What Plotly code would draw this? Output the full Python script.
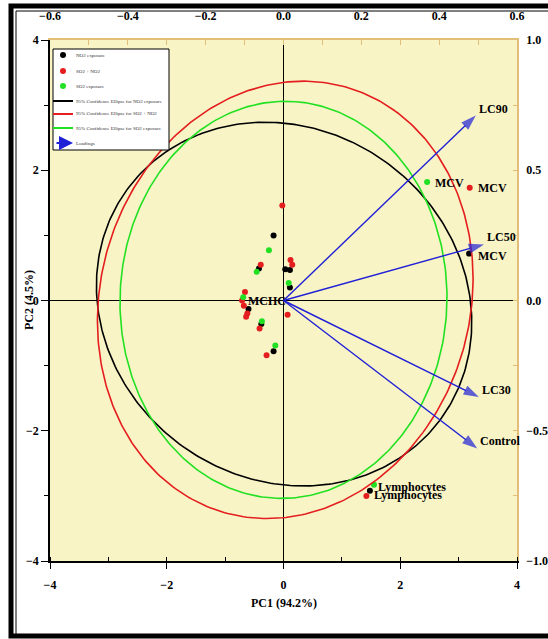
import numpy as np
import plotly.graph_objects as go

# ---------------- data ----------------
# PCA scores (PC1, PC2) per group
no2_x = [-0.17, -0.42, 0.03, 0.11, 0.11, -0.60, -0.38, -0.17, 3.18, 1.48]
no2_y = [1.00, 0.49, 0.48, 0.47, 0.20, -0.13, -0.36, -0.78, 0.72, -2.92]
mix_x = [-0.02, -0.39, 0.12, 0.15, -0.66, -0.71, -0.68, -0.62, -0.64, 0.07, -0.41, -0.29, 3.19, 1.42]
mix_y = [1.46, 0.55, 0.62, 0.55, 0.13, 0.00, -0.08, -0.20, -0.25, -0.22, -0.43, -0.84, 1.73, -3.00]
so2_x = [-0.25, -0.46, 0.09, -0.69, -0.37, -0.14, 2.46, 1.55]
so2_y = [0.77, 0.44, 0.27, 0.05, -0.32, -0.69, 1.82, -2.83]

group_names = ["NO2 exposure", "SO2 + NO2", "SO2 exposure"]

# 95% confidence ellipses: centre, semi-axes, rotation (deg)
ell_names = ["95% Confidence Ellipse for NO2 exposure",
             "95% Confidence Ellipse for SO2 + NO2",
             "95% Confidence Ellipse for SO2 exposure"]
ell_cx = [0.01, 0.03, 0.00]
ell_cy = [-0.055, 0.01, 0.01]
ell_a = [3.26, 3.457, 3.05]
ell_b = [2.74, 3.111, 2.80]
ell_ang = [-17.8, 57.0, 86.0]

# loadings (top / right axes)
load_names = ["LC90", "LC50", "LC30", "Control"]
load_x = [0.494, 0.515, 0.502, 0.498]
load_y = [0.710, 0.215, -0.370, -0.568]

# point labels
lab_text = ["MCV", "MCV", "MCV", "MCHC", "Lymphocytes", "Lymphocytes"]
lab_x = [2.56, 3.29, 3.29, -0.65, 1.59, 1.52]
lab_y = [1.80, 1.72, 0.69, 0.00, -2.87, -2.98]

BLACK = "#000000"
RED = "#E41E1E"
GREEN = "#22E022"
BLUE = "#2020D6"
TAN = "#E2BE78"
FONT = "Liberation Serif"

FIG_W, FIG_H = 548, 639
# plot-area pixel geometry
L, R, T, B = 50, 517, 40, 561
W, H = R - L, B - T


def px2paper(px, py):
    """pixel -> paper coordinates"""
    return (px - L) / W, (B - py) / H


fig = go.Figure()

for gx, gy, nm, col in zip([no2_x, mix_x, so2_x], [no2_y, mix_y, so2_y], group_names,
                           [BLACK, RED, GREEN]):
    fig.add_trace(go.Scatter(x=gx, y=gy, mode="markers", name=nm,
                             marker=dict(color=col, size=6, line=dict(width=0))))

t = np.linspace(0, 2 * np.pi, 361)
for name, cx, cy, a, b, ang, col in zip(ell_names, ell_cx, ell_cy, ell_a, ell_b, ell_ang,
                                        [BLACK, RED, GREEN]):
    p = np.deg2rad(ang)
    ex = cx + a * np.cos(t) * np.cos(p) - b * np.sin(t) * np.sin(p)
    ey = cy + a * np.cos(t) * np.sin(p) + b * np.sin(t) * np.cos(p)
    fig.add_trace(go.Scatter(x=ex, y=ey, mode="lines", name=name,
                             line=dict(color=col, width=1.6)))

for i, (nm, lx, ly) in enumerate(zip(load_names, load_x, load_y)):
    fig.add_trace(go.Scatter(x=[0, lx], y=[0, ly], xaxis="x2", yaxis="y2",
                             mode="lines+markers", name="Loadings",
                             line=dict(color=BLUE, width=1.4),
                             marker=dict(symbol=["circle", "arrow"], size=[0, 16],
                                         angleref="previous", color=BLUE,
                                         line=dict(width=0))))
    fig.add_annotation(x=lx, y=ly, xref="x2", yref="y2", text=nm, showarrow=False,
                       xanchor="left", yanchor="bottom", xshift=1, yshift=-2,
                       font=dict(family=FONT, size=12, color="black", weight="bold"))

for txt, x, y in zip(lab_text, lab_x, lab_y):
    fig.add_annotation(x=x, y=y, text=txt, showarrow=False, xanchor="left", yanchor="middle",
                       font=dict(family=FONT, size=12, color="black", weight="bold"))

tickfont = dict(family=FONT, size=12, color="black", weight="bold")

fig.update_layout(
    width=FIG_W, height=FIG_H,
    margin=dict(l=L, r=FIG_W - R, t=T, b=FIG_H - B, autoexpand=False),
    paper_bgcolor="white",
    plot_bgcolor="#F8F4C6",
    showlegend=False,
    xaxis=dict(range=[-4, 4], tickvals=[-4, -2, 0, 2, 4], ticks="outside", ticklen=6,
               tickcolor="black", showline=True, linecolor="black", linewidth=1.5,
               showgrid=False, zeroline=True, zerolinecolor="black", zerolinewidth=1,
               tickfont=tickfont, automargin=False, ticklabelstandoff=6,
               minor=dict(dtick=1, ticks="inside", ticklen=4, tickcolor="black", showgrid=False)),
    yaxis=dict(range=[-4, 4], tickvals=[-4, -2, 0, 2, 4], ticks="outside", ticklen=7,
               tickcolor="black", showline=True, linecolor="black", linewidth=1.5,
               showgrid=False, zeroline=True, zerolinecolor="black", zerolinewidth=1,
               tickfont=tickfont, automargin=False,
               minor=dict(dtick=1, ticks="outside", ticklen=4, tickcolor="black", showgrid=False)),
    xaxis2=dict(range=[-0.6, 0.6], overlaying="x", side="top", anchor="y",
                tickvals=[-0.6, -0.4, -0.2, 0.0, 0.2, 0.4, 0.6], tickformat=".1f",
                ticks="inside", ticklen=5, tickcolor=TAN, showline=True, linecolor=TAN,
                linewidth=1.5, showgrid=False, zeroline=False, tickfont=tickfont,
                ticklabelstandoff=13, automargin=False,
                minor=dict(dtick=0.1, ticks="inside", ticklen=5, tickcolor=TAN, showgrid=False)),
    yaxis2=dict(range=[-1, 1], overlaying="y", side="right", anchor="x",
                tickvals=[-1.0, -0.5, 0.0, 0.5, 1.0], tickformat=".1f",
                ticks="inside", ticklen=4, tickcolor=TAN, showline=True, linecolor=TAN,
                linewidth=1.5, showgrid=False, zeroline=False, tickfont=tickfont,
                ticklabelstandoff=5, automargin=False,
                minor=dict(dtick=0.25, ticks="inside", ticklen=4, tickcolor=TAN, showgrid=False)),
)

# axis titles
fig.add_annotation(x=0.5, y=px2paper(0, 603)[1], xref="paper", yref="paper",
                   text="PC1 (94.2%)", showarrow=False, font=tickfont,
                   xanchor="center", yanchor="middle")
fig.add_annotation(x=px2paper(29, 0)[0], y=px2paper(0, 300)[1], xref="paper", yref="paper",
                   text="PC2 (4.5%)", showarrow=False, font=tickfont, textangle=-90,
                   xanchor="center", yanchor="middle")

# ---- custom legend (box at top-left) ----
lx0, ly0 = px2paper(53, 49)
lx1, ly1 = px2paper(169, 150)
fig.add_shape(type="rect", xref="paper", yref="paper", x0=lx0, y0=ly1, x1=lx1, y1=ly0,
              fillcolor="white", line=dict(color="black", width=1), layer="above")
leg_labels = group_names + ell_names + ["Loadings"]
leg_cols = [BLACK, RED, GREEN, BLACK, RED, GREEN, BLUE]
leg_y = [55, 71, 86, 101, 114, 128, 143]
for i, (txt, col, yy) in enumerate(zip(leg_labels, leg_cols, leg_y)):
    if i < 3:
        cx0, cy0 = px2paper(60, yy - 3)
        cx1, cy1 = px2paper(66, yy + 3)
        fig.add_shape(type="circle", xref="paper", yref="paper", x0=cx0, y0=cy1, x1=cx1, y1=cy0,
                      fillcolor=col, line=dict(width=0), layer="above")
    elif i < 6:
        ax0, ay = px2paper(53, yy)
        ax1, _ = px2paper(73, yy)
        fig.add_shape(type="line", xref="paper", yref="paper", x0=ax0, y0=ay, x1=ax1, y1=ay,
                      line=dict(color=col, width=2), layer="above")
    else:
        ax1, ay = px2paper(73, yy)
        fig.add_annotation(x=ax1, y=ay, ax=-18, ay=0, xref="paper", yref="paper",
                           axref="pixel", ayref="pixel", text="", showarrow=True,
                           arrowhead=2, arrowsize=1.4, arrowwidth=2, arrowcolor=col)
    tx, ty = px2paper(74, yy)
    fig.add_annotation(x=tx, y=ty, xref="paper", yref="paper", text=txt, showarrow=False,
                       xanchor="left", yanchor="middle",
                       font=dict(family=FONT, size=5, color="#333333"))

# outer frame (thick + thin); right side lies outside the picture
x0, y0 = px2paper(11, 6)
x1, y1 = px2paper(560, 636)
fig.add_shape(type="rect", xref="paper", yref="paper", x0=x0, y0=y1, x1=x1, y1=y0,
              line=dict(color="black", width=5), layer="above")
x0, y0 = px2paper(16, 11)
x1, y1 = px2paper(560, 636)
fig.add_shape(type="rect", xref="paper", yref="paper", x0=x0, y0=y1, x1=x1, y1=y0,
              line=dict(color="black", width=1), layer="above")

fig.write_html(
    "out.html",
    config={"displayModeBar": False},
    post_script=("document.documentElement.style.overflow='hidden';"
                 "document.body.style.margin='0';"
                 "document.body.style.overflow='hidden';"),
)
